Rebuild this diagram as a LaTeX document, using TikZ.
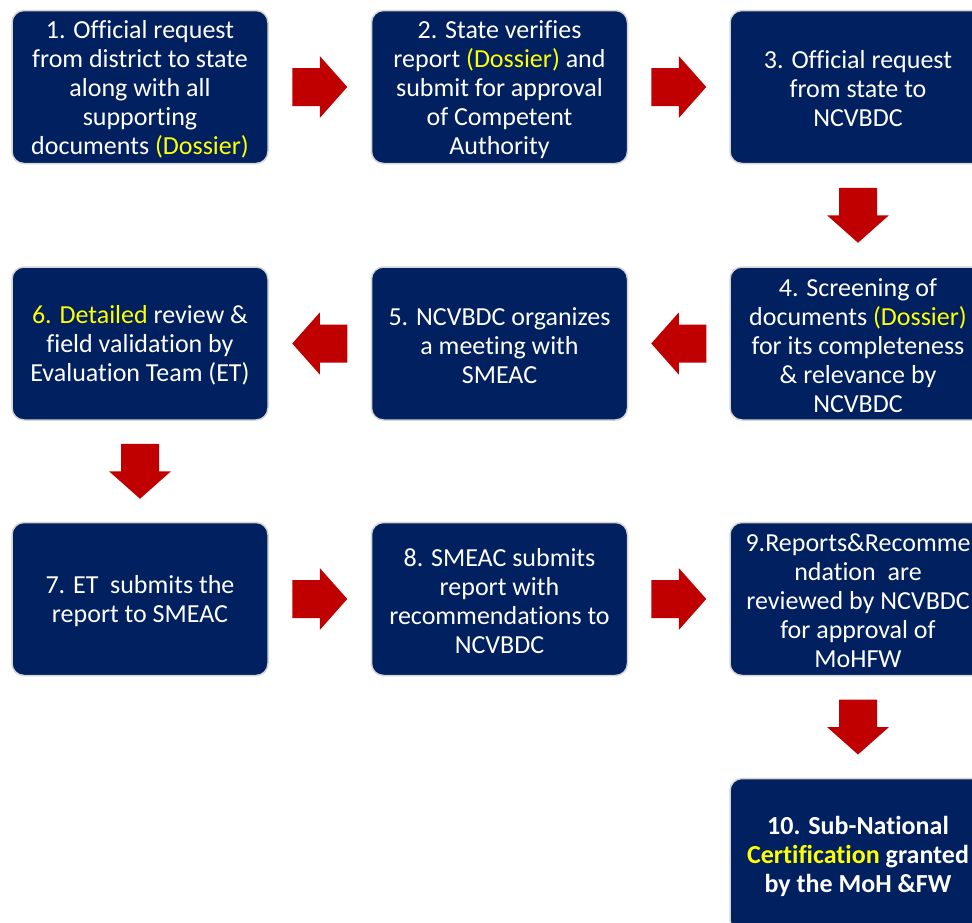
\documentclass[tikz,border=0pt]{standalone}
\usepackage{fontspec}
\setmainfont{Carlito}[Ligatures=NoCommon]
\usetikzlibrary{calc}
\definecolor{navy}{HTML}{002060}
\definecolor{ared}{HTML}{C00000}
\definecolor{hl}{HTML}{FFFF00}
\definecolor{rim}{HTML}{D4D4D4}
\newcommand{\hy}[1]{\textcolor{hl}{#1}}
\begin{document}
\begin{tikzpicture}[x=1pt,y=-1pt,
  stepbox/.style={draw=rim, line width=1.5pt, fill=navy, rounded corners=12pt,
    minimum width=256pt, minimum height=153pt, inner sep=0pt},
  boxtext/.style={inner sep=0pt, text=white, align=center,
    font=\fontsize{26}{29}\selectfont},
  barrow/.pic={\fill[ared] (-27.5,-19) -- (0,-19) -- (0,-31) -- (27.5,0) -- (0,31) -- (0,19) -- (-27.5,19) -- cycle;}]
\useasboundingbox (0,0) rectangle (972,922);
\clip (0,0) rectangle (972,922);
\node[stepbox] (n1) at (140,87) {};
\node[stepbox] (n2) at (499.5,87) {};
\node[stepbox] (n3) at (858,87) {};
\node[stepbox] (n4) at (858,343.5) {};
\node[stepbox] (n5) at (499.5,343.5) {};
\node[stepbox] (n6) at (140,343.5) {};
\node[stepbox] (n7) at (140,599) {};
\node[stepbox] (n8) at (499.5,599) {};
\node[stepbox] (n9) at (858,599) {};
\node[stepbox] (n10) at (858,855) {};
\node[boxtext] (t1) at ([yshift=-2.5pt]n1.center) {1. Official request\\from district to state\\along with all\\supporting\\documents \hy{(Dossier)}};
\node[boxtext] (t2) at ([yshift=-2.5pt]n2.center) {2. State verifies\\report \hy{(Dossier)} and\\submit for approval\\of Competent\\Authority};
\node[boxtext] (t3) at ([yshift=-2pt]n3.center) {3. Official request\\from state to\\NCVBDC};
\node[boxtext] (t4) at ([yshift=-2pt]n4.center) {4. Screening of\\documents \hy{(Dossier)}\\for its completeness\\\& relevance by\\NCVBDC};
\node[boxtext] (t5) at ([yshift=-2pt]n5.center) {5. NCVBDC organizes\\a meeting with\\SMEAC};
\node[boxtext] (t6) at ([yshift=-2pt]n6.center) {\hy{6. Detailed} review \&\\field validation by\\Evaluation Team (ET)};
\node[boxtext] (t7) at ([yshift=-2pt]n7.center) {7. ET\ \ submits the\\report to SMEAC};
\node[boxtext] (t8) at ([yshift=-2pt]n8.center) {8. SMEAC submits\\report with\\recommendations to\\NCVBDC};
\node[boxtext] (t9) at ([yshift=-2pt]n9.center) {9.Reports\&Recomme\\ndation\ \ are\\reviewed by NCVBDC\\for approval of\\MoHFW};
\node[boxtext, font=\bfseries\fontsize{26}{29}\selectfont] (t10) at ([yshift=-1pt]n10.center) {10. Sub-National\\\hy{Certification} granted\\by the MoH \&FW};
\pic at ($(n1.east)!0.5!(n2.west)$) {barrow};
\pic at ($(n2.east)!0.5!(n3.west)$) {barrow};
\pic[rotate=-90] at ($(n3.south)!0.5!(n4.north)$) {barrow};
\pic[rotate=180] at ($(n4.west)!0.5!(n5.east)$) {barrow};
\pic[rotate=180] at ($(n5.west)!0.5!(n6.east)$) {barrow};
\pic[rotate=-90] at ($(n6.south)!0.5!(n7.north)$) {barrow};
\pic at ($(n7.east)!0.5!(n8.west)$) {barrow};
\pic at ($(n8.east)!0.5!(n9.west)$) {barrow};
\pic[rotate=-90] at ($(n9.south)!0.5!(n10.north)$) {barrow};
\end{tikzpicture}
\end{document}
